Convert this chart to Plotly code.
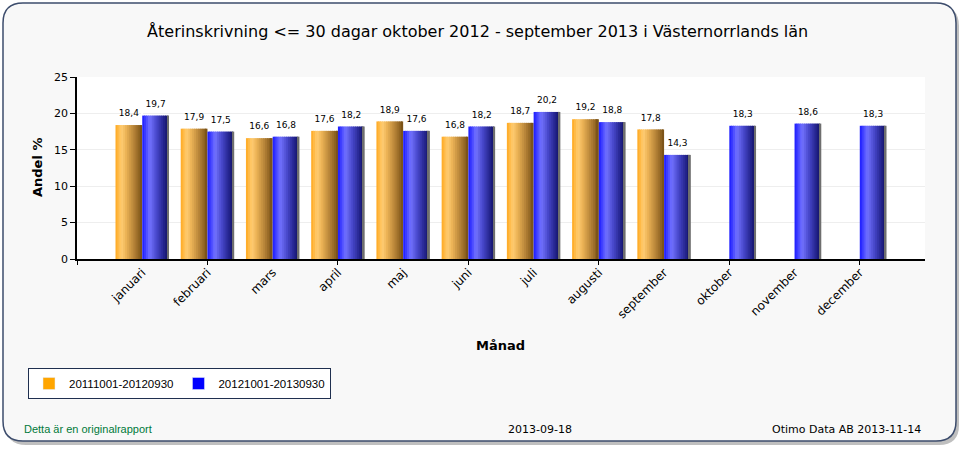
import plotly.graph_objects as go

FONT = "DejaVu Sans, Verdana, sans-serif"

months = ["januari", "februari", "mars", "april", "maj", "juni", "juli",
          "augusti", "september", "oktober", "november", "december"]
prev_period = [18.4, 17.9, 16.6, 17.6, 18.9, 16.8, 18.7, 19.2, 17.8, None, None, None]
curr_period = [19.7, 17.5, 16.8, 18.2, 17.6, 18.2, 20.2, 18.8, 14.3, 18.3, 18.6, 18.3]
names = ["20111001-20120930", "20121001-20130930"]

# plot area in pixels (used only for decorations / annotations)
L, R, T, B = 77, 925, 77, 259


def px(x):
    return (x - L) / (R - L)


def py(y):
    return (B - y) / (B - T)


def lerp(stops, t):
    for (t0, c0), (t1, c1) in zip(stops, stops[1:]):
        if t0 <= t <= t1:
            f = (t - t0) / (t1 - t0) if t1 > t0 else 0
            return "rgb(%d,%d,%d)" % tuple(round(a + (b - a) * f) for a, b in zip(c0, c1))
    return "rgb(%d,%d,%d)" % stops[-1][1]


orange_stops = [(0, (255, 168, 30)), (0.22, (255, 205, 115)), (0.4, (235, 178, 85)),
                (0.7, (180, 130, 55)), (1.0, (118, 78, 20))]
blue_stops = [(0, (25, 25, 255)), (0.28, (115, 115, 255)), (0.55, (70, 70, 200)),
              (0.85, (30, 30, 130)), (0.93, (20, 20, 105)), (0.94, (110, 110, 110)), (1.0, (110, 110, 110))]

x = list(range(len(months)))
bw = 0.41
n = 14
fig = go.Figure()
for vals, stops, start in [(prev_period, orange_stops, -bw), (curr_period, blue_stops, 0)]:
    for i in range(n):
        last = i == n - 1
        fig.add_trace(go.Bar(
            x=x, y=vals, offset=start + i * bw / n, width=bw / n + (0 if last else 0.012),
            marker=dict(color=lerp(stops, (i + 0.5) / n), line_width=0),
            showlegend=False, hoverinfo="skip",
        ))

for vals, off in [(prev_period, -bw / 2), (curr_period, bw / 2)]:
    fig.add_trace(go.Scatter(
        x=[i + off for i in x], y=vals, mode="markers+text",
        marker=dict(size=9, color="rgba(0,0,0,0)"),
        text=[("%.1f" % v).replace(".", ",") if v is not None else "" for v in vals],
        textposition="top center", textfont=dict(size=9, color="#000", family=FONT),
        showlegend=False, hoverinfo="skip",
    ))

for name, col in zip(names, ["#ffa500", "#0000ff"]):
    fig.add_trace(go.Bar(x=[None], y=[None], name=name, marker_color=col))


def rounded(x0, y0, x1, y1, r):
    return (f"M {px(x0 + r)},{py(y0)} L {px(x1 - r)},{py(y0)} Q {px(x1)},{py(y0)} {px(x1)},{py(y0 + r)} "
            f"L {px(x1)},{py(y1 - r)} Q {px(x1)},{py(y1)} {px(x1 - r)},{py(y1)} "
            f"L {px(x0 + r)},{py(y1)} Q {px(x0)},{py(y1)} {px(x0)},{py(y1 - r)} "
            f"L {px(x0)},{py(y0 + r)} Q {px(x0)},{py(y0)} {px(x0 + r)},{py(y0)} Z")


shapes = [
    dict(type="path", path=rounded(6, 6, 959, 445, 20), xref="paper", yref="paper",
         fillcolor="rgba(0,0,0,0.25)", line_width=0, layer="below"),
    dict(type="path", path=rounded(3, 3, 956, 441, 20), xref="paper", yref="paper",
         fillcolor="#f8f8f8", line=dict(color="#3c4c6c", width=1.5), layer="below"),
    dict(type="rect", x0=0, x1=1, y0=0, y1=1, xref="paper", yref="paper",
         fillcolor="#ffffff", line_width=0, layer="below"),
    dict(type="rect", x0=px(31), x1=px(330), y0=py(371), y1=py(398), xref="paper", yref="paper",
         fillcolor="rgba(0,0,0,0.3)", line_width=0, layer="below"),
]

annotations = [
    dict(text="<b>Andel %</b>", x=px(37), y=py(168), textangle=-90, xanchor="center",
         font=dict(size=13, family=FONT, color="#000")),
    dict(text="<b>Månad</b>", x=px(500), y=py(345), xanchor="center",
         font=dict(size=13, family=FONT, color="#000")),
    dict(text="Detta är en originalrapport", x=px(22), y=py(429), xanchor="left",
         font=dict(size=11, family="Liberation Sans, Arial, sans-serif", color="#007a3a")),
    dict(text="2013-09-18", x=px(540), y=py(429), xanchor="center",
         font=dict(size=11, family=FONT, color="#000")),
    dict(text="Otimo Data AB 2013-11-14", x=px(923), y=py(429), xanchor="right",
         font=dict(size=11, family=FONT, color="#000")),
]
for a in annotations:
    a.update(xref="paper", yref="paper", yanchor="middle", showarrow=False)

fig.update_layout(
    width=965, height=450,
    margin=dict(l=L, r=965 - R, t=T, b=450 - B),
    paper_bgcolor="#ffffff", plot_bgcolor="rgba(0,0,0,0)",
    barmode="overlay",
    font=dict(family=FONT, size=12, color="#000"),
    title=dict(text="Återinskrivning <= 30 dagar oktober 2012 - september 2013 i Västernorrlands län",
               x=0.495, xanchor="center", y=1 - 31 / 450, yanchor="middle",
               font=dict(size=16, family=FONT, color="#000")),
    xaxis=dict(range=[-1, 12], tickvals=x, ticktext=months, tickangle=-45, ticks="",
               showgrid=False, showline=True, linecolor="#000", linewidth=1.5, zeroline=False,
               tickfont=dict(size=12)),
    xaxis2=dict(range=[-1, 12], overlaying="x", tickvals=[-1, 1, 3, 5, 7, 9, 11], ticks="outside",
                ticklen=5, tickcolor="#000", showticklabels=False, showgrid=False, side="bottom"),
    yaxis=dict(range=[0, 25], dtick=5, ticks="outside", ticklen=5, tickcolor="#000",
               showline=True, linecolor="#000", linewidth=1.5, gridcolor="#eeeeee",
               zeroline=False, tickfont=dict(size=11)),
    legend=dict(orientation="h", x=px(28), y=py(368), xanchor="left", yanchor="top",
                bgcolor="#ffffff", bordercolor="#1f2f4f", borderwidth=1,
                font=dict(size=11.5, family="Liberation Sans, Arial, sans-serif", color="#000")),
    shapes=shapes, annotations=annotations,
)
fig.add_trace(go.Scatter(x=[None], y=[None], xaxis="x2", showlegend=False, hoverinfo="skip"))

fig.write_html("out.html", config={"displayModeBar": False},
               post_script="document.body.style.margin='0px';")
